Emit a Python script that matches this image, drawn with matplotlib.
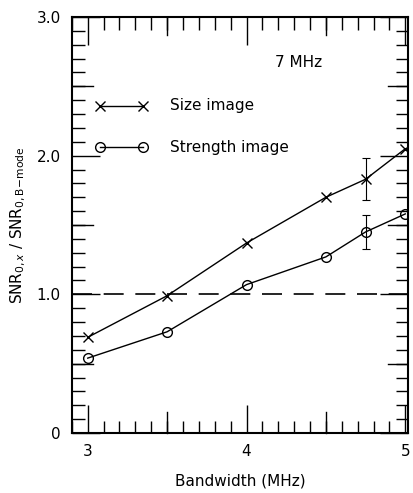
import matplotlib
matplotlib.use("Agg")
import matplotlib.pyplot as plt
from matplotlib.ticker import MultipleLocator, FixedLocator, FixedFormatter

bandwidth = [3.0, 3.5, 4.0, 4.5, 4.75, 5.0]
size_image = [0.69, 0.99, 1.37, 1.70, 1.83, 2.05]
strength_image = [0.54, 0.73, 1.07, 1.27, 1.45, 1.58]
err_x = [4.75]
size_err_y = [1.83]
size_err = [0.15]
strength_err_y = [1.45]
strength_err = [0.12]
reference_level = 1.0
ytick_vals = [0, 1.0, 2.0, 3.0]
ytick_labels = ["0", "1.0", "2.0", "3.0"]
xtick_vals = [3, 4, 5]
xtick_labels = ["3", "4", "5"]

plt.rcParams['font.family'] = ['DejaVu Sans']
fig = plt.figure(figsize=(4.13, 4.93), dpi=100)
ax = fig.add_axes([0.174, 0.1217, 0.815, 0.8438])

ax.plot(bandwidth, size_image, color='black', lw=1.0, marker='x', ms=7, mew=1.0)
ax.plot(bandwidth, strength_image, color='black', lw=1.0, marker='o', ms=7,
        mfc='none', mew=1.0)
ax.errorbar(err_x, size_err_y, yerr=size_err, fmt='none', ecolor='black',
            elinewidth=0.8, capsize=3, capthick=0.8)
ax.errorbar(err_x, strength_err_y, yerr=strength_err, fmt='none', ecolor='black',
            elinewidth=0.8, capsize=3, capthick=0.8)
ax.axhline(reference_level, color='black', lw=1.2, dashes=(12, 7))

ax.set_xlim(2.9, 5.02)
ax.set_ylim(0, 3.0)

ax.xaxis.set_major_locator(FixedLocator(xtick_vals))
ax.xaxis.set_major_formatter(FixedFormatter(xtick_labels))
ax.xaxis.set_minor_locator(MultipleLocator(0.1))
ax.yaxis.set_major_locator(FixedLocator(ytick_vals))
ax.yaxis.set_major_formatter(FixedFormatter(ytick_labels))
ax.yaxis.set_minor_locator(MultipleLocator(0.1))

ax.tick_params(which='both', direction='in', top=True, right=True, width=1.0,
               labelsize=11, pad=8)
ax.tick_params(which='major', length=20)
ax.tick_params(which='minor', length=9)
# extra long ticks at half-units
for v in [3.5, 4.5]:
    ax.plot([v, v], [0, 0.15], color='black', lw=1.0, clip_on=False)
    ax.plot([v, v], [3.0, 2.87], color='black', lw=1.0, clip_on=False)
for v in [0.5, 1.5, 2.5]:
    ax.plot([2.9, 2.9 + 0.13], [v, v], color='black', lw=1.0)
    ax.plot([5.02, 5.02 - 0.13], [v, v], color='black', lw=1.0)

for s in ax.spines.values():
    s.set_linewidth(1.5)

ax.text(4.33, 2.67, "7 MHz", fontsize=11, ha='center', va='center')
ax.plot([3.08, 3.35], [2.36, 2.36], color='black', lw=1.0, marker='x', ms=7, mew=1.0)
ax.plot([3.08, 3.35], [2.06, 2.06], color='black', lw=1.0, marker='o', ms=7,
        mfc='none', mew=1.0)
ax.text(3.52, 2.36, "Size image", fontsize=11, va='center')
ax.text(3.52, 2.06, "Strength image", fontsize=11, va='center')

ax.set_xlabel("Bandwidth (MHz)", fontsize=11, labelpad=10)
ax.set_ylabel(r"SNR$_{0,x}$ / SNR$_{0,\mathrm{B\!-\!mode}}$", fontsize=11, labelpad=6)

fig.savefig("out.png", dpi=100)
